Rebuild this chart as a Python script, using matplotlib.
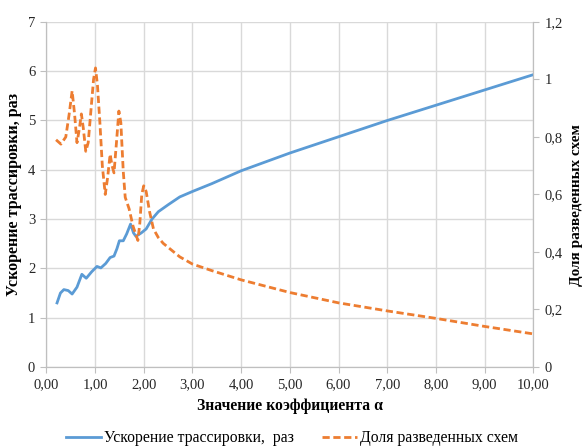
import matplotlib.pyplot as plt
from matplotlib.ticker import FuncFormatter, MultipleLocator

plt.rcParams['font.family'] = ['Liberation Serif', 'DejaVu Serif']

# speedup (left axis)
speed_x = [0.22, 0.29, 0.36, 0.45, 0.53, 0.63, 0.73, 0.82, 0.93, 1.04, 1.12, 1.22,
           1.31, 1.39, 1.45, 1.50, 1.58, 1.65, 1.73, 1.79, 1.84, 1.95, 2.05, 2.17,
           2.30, 2.50, 2.74, 3.00, 3.40, 4.0, 5.0, 6.0, 7.0, 8.0, 9.0, 10.0]
speed_y = [1.30, 1.50, 1.57, 1.55, 1.48, 1.62, 1.88, 1.80, 1.93, 2.04, 2.01, 2.10,
           2.22, 2.25, 2.40, 2.56, 2.56, 2.70, 2.90, 2.72, 2.65, 2.72, 2.80, 3.00,
           3.15, 3.29, 3.45, 3.56, 3.72, 3.98, 4.34, 4.67, 5.00, 5.31, 5.62, 5.93]

# share of routed circuits (right axis)
share_x = [0.20, 0.30, 0.40, 0.47, 0.53, 0.58, 0.63, 0.68, 0.72, 0.76, 0.81, 0.86,
           0.92, 0.97, 1.01, 1.05, 1.10, 1.15, 1.21, 1.26, 1.31, 1.35, 1.39, 1.44,
           1.49, 1.53, 1.58, 1.62, 1.70, 1.78, 1.88, 1.92, 1.96, 2.00, 2.05, 2.12,
           2.20, 2.30, 2.40, 2.74, 3.00, 3.40, 4.0, 5.0, 6.0, 7.0, 8.0, 9.0, 10.0]
share_y = [0.790, 0.775, 0.800, 0.880, 0.960, 0.880, 0.780, 0.830, 0.880, 0.830,
           0.750, 0.780, 0.900, 1.000, 1.040, 0.980, 0.850, 0.700, 0.600, 0.660,
           0.740, 0.700, 0.675, 0.780, 0.890, 0.850, 0.680, 0.590, 0.550, 0.490,
           0.440, 0.500, 0.600, 0.630, 0.610, 0.540, 0.480, 0.450, 0.430, 0.383,
           0.358, 0.335, 0.303, 0.259, 0.223, 0.195, 0.169, 0.141, 0.115]

blue = '#5B9BD5'
orange = '#ED7D31'
grid = '#D9D9D9'
axis_col = '#BFBFBF'

fig = plt.figure(figsize=(5.84, 4.47), dpi=100)
ax = fig.add_axes([0.0793, 0.179, 0.834, 0.772])
ax2 = ax.twinx()

l1, = ax.plot(speed_x, speed_y, color=blue, lw=2, label='Ускорение трассировки,  раз')
l2, = ax2.plot(share_x, share_y, color=orange, lw=2, dashes=(2.6, 1.3),
               label='Доля разведенных схем')

ax.set_xlim(0, 10)
ax.set_ylim(0, 7)
ax2.set_ylim(0, 1.2)
ax.xaxis.set_major_locator(MultipleLocator(1))
ax.yaxis.set_major_locator(MultipleLocator(1))
ax2.yaxis.set_major_locator(MultipleLocator(0.2))

ax.xaxis.set_major_formatter(FuncFormatter(lambda v, p: f'{v:.2f}'.replace('.', ',')))
ax2.yaxis.set_major_formatter(FuncFormatter(lambda v, p: f'{v:g}'.replace('.', ',')))

ax.grid(True, color=grid, lw=1)
ax.set_axisbelow(True)

for a in (ax, ax2):
    a.spines['top'].set_visible(False)
    for s in ('left', 'right', 'bottom'):
        a.spines[s].set_color(axis_col)
    a.tick_params(colors=axis_col, labelcolor='#262626', labelsize=10.5, length=4,
                  direction='out', pad=4)

ax.set_xlabel('Значение коэффициента α', fontsize=11.3, fontweight='bold', labelpad=5)
ax.set_ylabel('Ускорение трассировки, раз', fontsize=11.5, fontweight='bold', labelpad=4)
ax2.set_ylabel('Доля разведенных схем', fontsize=11, fontweight='bold', rotation=90,
               labelpad=3)
ax2.yaxis.set_label_coords(1.075, 0.47)

fig.legend(handles=[l1, l2], loc='lower center', bbox_to_anchor=(0.5, -0.03), ncol=2,
           frameon=False, fontsize=11.3, handlelength=2.2, handletextpad=0.2,
           columnspacing=1.8)

fig.savefig('out.png', dpi=100)
